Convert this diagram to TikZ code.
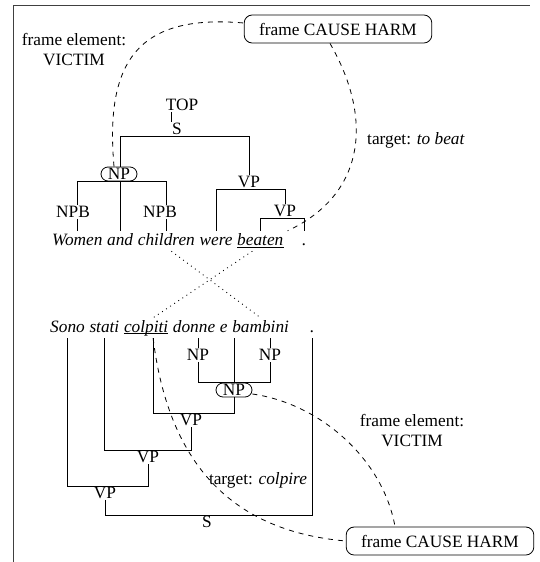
\documentclass[tikz,border=0pt]{standalone}
\usepackage{fontspec}
\setmainfont{Liberation Serif}
\usetikzlibrary{positioning}

\begin{document}
\begin{tikzpicture}[x=1pt, y=-1pt, font=\fontsize{17.3}{20}\selectfont]
    \tikzstyle{cat} = [inner sep=1pt, text height=11.5pt, text depth=0pt]
    \tikzstyle{pill} = [draw, line width=0.8pt, rounded corners=7pt, inner xsep=4pt, inner ysep=1pt, text height=11.5pt, text depth=0pt, minimum width=36pt, minimum height=14pt]
    \tikzstyle{word} = [inner xsep=0pt, inner ysep=2pt, text height=12pt, text depth=4pt, font=\fontsize{17.3}{20}\selectfont\itshape]
    \tikzstyle{framebox} = [draw, line width=0.8pt, rounded corners=8pt, inner xsep=15pt, minimum height=28pt]
    \tikzstyle{note} = [align=center, inner sep=0pt]
    \tikzstyle{branch} = [draw, line width=0.8pt]
    \tikzstyle{role} = [draw, line width=0.8pt, dash pattern=on 5pt off 5pt]
    \tikzstyle{link} = [draw, line width=0.9pt, dash pattern=on 0.9pt off 4pt]

    \useasboundingbox (0,0) rectangle (540,562);
    \draw [line width=1pt, black!75] (13,562) -- (13,5) -- (530,5);

    \node [note] (fe1) at (74,50) {frame element:\\VICTIM};
    \node [framebox] (harm1) at (338,29) {frame CAUSE HARM};
    \node [note] (tgt1) at (416,140) {target: \textit{to beat}};

    \node [cat] (top) at (182,105) {TOP};
    \node [cat] (s1) at (177,129) {S};
    \node [pill] (np1) at (119,174) {NP};
    \node [cat] (vp1) at (249,182) {VP};
    \node [cat] (npb1) at (73,212) {NPB};
    \node [cat] (npb2) at (160,212) {NPB};
    \node [cat] (vp2) at (285,211) {VP};

    \node [word, anchor=base west] (w1) at (52,245) {Women};
    \node [word, right=4.3pt of w1] (w2) {and};
    \node [word, right=4.3pt of w2] (w3) {children};
    \node [word, right=4.3pt of w3] (w4) {were};
    \node [word, right=4.3pt of w4] (w5) {beaten};
    \node [word, anchor=base west] (dot1) at (302,245) {.};

    \node [word, anchor=base west] (v1) at (50,332) {Sono};
    \node [word, right=4.3pt of v1] (v2) {stati};
    \node [word, right=4.3pt of v2] (v3) {colpiti};
    \node [word, right=4.3pt of v3] (v4) {donne};
    \node [word, right=4.3pt of v4] (v5) {e};
    \node [word, right=4.3pt of v5] (v6) {bambini};
    \node [word, anchor=base west] (dot2) at (310,332) {.};

    \node [cat] (np2) at (198,355) {NP};
    \node [cat] (np3) at (270,355) {NP};
    \node [pill] (np4) at (234,390) {NP};
    \node [cat] (vp3) at (191,420) {VP};
    \node [cat] (vp4) at (148,457) {VP};
    \node [cat] (vp5) at (105,493) {VP};
    \node [cat] (s2) at (207,522) {S};

    \node [note] (fe2) at (412,431) {frame element:\\VICTIM};
    \node [note] (tgt2) at (258,480) {target: \textit{colpire}};
    \node [framebox] (harm2) at (440,541) {frame CAUSE HARM};

    \path [branch] (top.south -| s1.west) -- (s1.north west);
    \path [branch] (np1.north -| w2) |- (s1.south) -| (vp1.north);
    \path [branch] (npb1.north -| w1) |- (np1.south) -| (npb2.north -| w3);
    \path [branch] (np1.south -| w2) -- (w2.north);
    \path [branch] (npb1.south -| w1) -- (w1.north);
    \path [branch] (npb2.south -| w3) -- (w3.north);
    \path [branch] (w4.north) |- (vp1.south) -| (vp2.north);
    \path [branch] (w5.north) |- (vp2.south) -| (dot1.north);
    \path [branch, line width=0.6pt] ([yshift=-2pt]w5.base west) -- ([yshift=-2pt]w5.base east);

    \path [branch] (v4.south -| np2) -- (np2.north);
    \path [branch] (v6.south -| np3) -- (np3.north);
    \path [branch] (np2.south) |- (np4.north) -| (np3.south);
    \path [branch] (v5.south -| np4) -- (np4.north);
    \path [branch] ([xshift=7pt]v3.south) |- (vp3.north) -| (np4.south);
    \path [branch] (v2.south) |- (vp4.north) -| (vp3.south);
    \path [branch] (v1.south) |- (vp5.north) -| (vp4.south);
    \path [branch] (vp5.south) |- (s2.north) -| (dot2.south);
    \path [branch, line width=0.6pt] ([yshift=-1pt]v3.base west) -- ([yshift=-1pt]v3.base east);

    \path [link] ([xshift=5pt]w3.south) -- (v6.north);
    \path [link] ([xshift=-8pt]w5.south) -- ([xshift=7pt]v3.north);

    \path [role] ([xshift=-5pt]np1.north) to [out=95, in=175, looseness=1.4] ([yshift=6pt]harm1.west);
    \path [role] ([xshift=-8pt]harm1.south) to [out=-60, in=25, looseness=1.15] ([xshift=4pt]w5.north east);
    \path [role] ([yshift=-4pt]np4.east) to [out=-8, in=100, looseness=0.9] ([xshift=-45pt]harm2.north);
    \path [role] ([xshift=7pt]v3.south) to [out=-83, in=175, looseness=1.1] (harm2.west);
\end{tikzpicture}
\end{document}
